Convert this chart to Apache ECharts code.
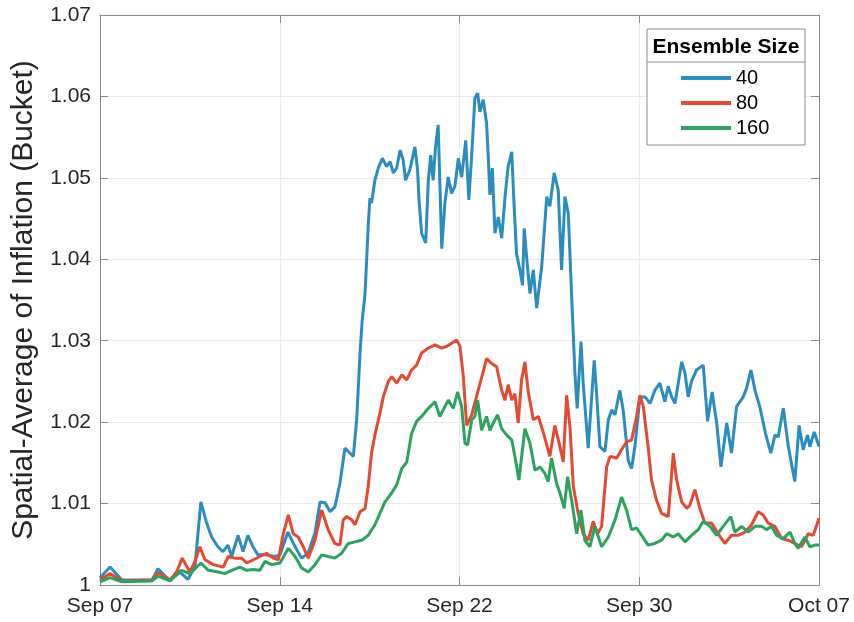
<!DOCTYPE html>
<html>
<head>
<meta charset="utf-8">
<script src="https://cdn.jsdelivr.net/npm/echarts@6/dist/echarts.min.js"></script>
<style>
  html, body { margin: 0; padding: 0; background: #fff; }
  #main { width: 854px; height: 622px; }
</style>
</head>
<body>
<div id="main"></div>
<script>
// x in days since Sep 07, tick every 7.5 days
var xLabels = ['Sep 07', 'Sep 14', 'Sep 22', 'Sep 30', 'Oct 07'];
var legendNames = ['40', '80', '160'];

var days40 = [0,0.42,0.91,2.17,2.42,2.92,3.25,3.67,3.96,4.21,4.45,4.66,4.92,5.13,5.34,5.49,5.76,5.97,6.17,6.38,6.59,6.88,7.30,7.51,7.84,8.14,8.41,8.68,8.97,9.18,9.39,9.60,9.80,10.01,10.22,10.36,10.57,10.71,10.85,10.94,11.06,11.19,11.26,11.33,11.47,11.61,11.78,11.96,12.10,12.24,12.38,12.52,12.65,12.75,12.93,13.14,13.25,13.31,13.42,13.59,13.70,13.80,13.90,14.00,14.11,14.26,14.39,14.53,14.67,14.81,14.95,15.09,15.26,15.39,15.53,15.64,15.76,15.85,15.99,16.13,16.20,16.27,16.37,16.48,16.62,16.76,16.90,17.03,17.18,17.28,17.38,17.52,17.63,17.70,17.80,17.94,18.08,18.22,18.43,18.64,18.77,18.95,19.12,19.26,19.40,19.54,19.68,19.82,19.91,20.07,20.16,20.37,20.62,20.72,20.86,21.07,21.21,21.35,21.49,21.69,21.83,22.04,22.18,22.32,22.53,22.74,22.95,23.15,23.36,23.57,23.71,23.85,23.99,24.27,24.41,24.54,24.68,24.89,25.17,25.35,25.54,25.73,25.91,26.15,26.35,26.56,26.84,26.98,27.16,27.33,27.53,27.77,27.99,28.16,28.30,28.51,28.72,28.99,29.17,29.34,29.52,29.62,29.80,30];
var vals40 = [1.0009,1.0022,1.0006,1.0006,1.0020,1.0005,1.0018,1.0007,1.0022,1.0102,1.0076,1.0059,1.0047,1.0041,1.0049,1.0035,1.0061,1.0041,1.0061,1.0047,1.0037,1.0037,1.0035,1.0037,1.0065,1.0047,1.0033,1.0039,1.0064,1.0102,1.0101,1.0090,1.0096,1.0125,1.0168,1.0164,1.0158,1.0203,1.0285,1.0325,1.0358,1.0440,1.0475,1.0469,1.0497,1.0512,1.0524,1.0514,1.0520,1.0506,1.0512,1.0534,1.0522,1.0497,1.0510,1.0538,1.0510,1.0473,1.0432,1.0420,1.0497,1.0528,1.0497,1.0538,1.0565,1.0413,1.0469,1.0501,1.0481,1.0490,1.0524,1.0501,1.0546,1.0473,1.0538,1.0598,1.0604,1.0581,1.0596,1.0567,1.0526,1.0479,1.0512,1.0432,1.0452,1.0426,1.0477,1.0514,1.0532,1.0465,1.0407,1.0387,1.0368,1.0438,1.0403,1.0358,1.0387,1.0340,1.0391,1.0477,1.0465,1.0506,1.0485,1.0387,1.0477,1.0456,1.0354,1.0258,1.0217,1.0299,1.0248,1.0168,1.0276,1.0235,1.0170,1.0164,1.0203,1.0215,1.0209,1.0239,1.0215,1.0153,1.0143,1.0170,1.0231,1.0231,1.0223,1.0239,1.0248,1.0225,1.0244,1.0231,1.0223,1.0274,1.0260,1.0231,1.0250,1.0264,1.0270,1.0201,1.0237,1.0199,1.0145,1.0199,1.0162,1.0219,1.0231,1.0242,1.0264,1.0239,1.0219,1.0186,1.0162,1.0184,1.0182,1.0217,1.0170,1.0127,1.0196,1.0166,1.0184,1.0170,1.0188,1.0170];

var days80 = [0,0.42,0.91,2.16,2.43,2.92,3.20,3.43,3.75,3.96,4.17,4.38,4.73,5.14,5.35,5.63,5.91,6.12,6.40,6.67,6.95,7.23,7.44,7.65,7.86,8.06,8.27,8.48,8.69,8.97,9.25,9.52,9.80,10.01,10.15,10.29,10.50,10.64,10.85,11.06,11.19,11.33,11.47,11.68,11.82,12.03,12.17,12.38,12.59,12.80,13.00,13.21,13.42,13.70,13.98,14.26,14.46,14.67,14.88,15.02,15.16,15.30,15.51,15.78,15.99,16.13,16.34,16.55,16.76,16.90,17.03,17.18,17.31,17.45,17.59,17.73,17.87,18.08,18.29,18.49,18.77,18.98,19.19,19.33,19.47,19.61,19.75,19.95,20.16,20.37,20.58,20.76,20.93,21.14,21.28,21.56,21.76,21.97,22.18,22.39,22.53,22.67,22.87,23.01,23.22,23.43,23.71,23.92,24.06,24.27,24.48,24.61,24.82,25.03,25.24,25.52,25.79,26.07,26.35,26.63,26.91,27.19,27.46,27.67,27.88,28.16,28.44,28.72,28.99,29.27,29.55,29.76,30];
var vals80 = [1.0006,1.0014,1.0005,1.0006,1.0015,1.0006,1.0016,1.0033,1.0016,1.0029,1.0047,1.0031,1.0025,1.0022,1.0035,1.0033,1.0033,1.0027,1.0031,1.0035,1.0039,1.0033,1.0031,1.0063,1.0086,1.0063,1.0059,1.0047,1.0033,1.0055,1.0092,1.0068,1.0051,1.0049,1.0080,1.0084,1.0080,1.0074,1.0090,1.0094,1.0121,1.0162,1.0184,1.0211,1.0231,1.0250,1.0256,1.0248,1.0258,1.0252,1.0264,1.0270,1.0285,1.0291,1.0295,1.0291,1.0293,1.0297,1.0301,1.0293,1.0256,1.0196,1.0209,1.0239,1.0262,1.0278,1.0272,1.0268,1.0239,1.0227,1.0246,1.0227,1.0235,1.0199,1.0252,1.0274,1.0237,1.0203,1.0207,1.0188,1.0158,1.0196,1.0170,1.0151,1.0233,1.0194,1.0121,1.0088,1.0063,1.0055,1.0078,1.0063,1.0072,1.0145,1.0158,1.0156,1.0166,1.0176,1.0178,1.0207,1.0233,1.0219,1.0170,1.0129,1.0104,1.0088,1.0084,1.0162,1.0129,1.0102,1.0094,1.0098,1.0117,1.0094,1.0076,1.0076,1.0063,1.0051,1.0061,1.0061,1.0065,1.0074,1.0090,1.0086,1.0076,1.0072,1.0057,1.0055,1.0051,1.0047,1.0063,1.0061,1.0082];

var days160 = [0,0.42,0.91,2.16,2.43,2.92,3.41,3.75,4.21,4.52,4.94,5.21,5.49,5.84,6.12,6.40,6.67,6.88,7.16,7.51,7.86,8.14,8.41,8.69,8.97,9.25,9.52,9.80,10.08,10.36,10.64,10.92,11.19,11.47,11.68,11.89,12.17,12.38,12.59,12.80,13.00,13.21,13.42,13.70,13.98,14.18,14.39,14.53,14.74,14.92,15.09,15.23,15.34,15.51,15.64,15.76,15.92,16.13,16.27,16.41,16.59,16.76,16.97,17.18,17.31,17.48,17.73,17.94,18.15,18.36,18.56,18.70,18.84,19.05,19.19,19.37,19.51,19.68,19.89,20.07,20.23,20.44,20.65,20.93,21.21,21.49,21.76,21.97,22.18,22.39,22.60,22.87,23.15,23.43,23.64,23.92,24.13,24.41,24.68,24.96,25.17,25.45,25.73,26.00,26.32,26.49,26.77,27.05,27.33,27.61,27.81,28.02,28.23,28.51,28.79,28.99,29.13,29.41,29.62,29.83,30];
var vals160 = [1.0004,1.0009,1.0004,1.0005,1.0011,1.0005,1.0018,1.0014,1.0027,1.0018,1.0016,1.0014,1.0018,1.0022,1.0018,1.0019,1.0018,1.0029,1.0025,1.0027,1.0045,1.0035,1.0021,1.0016,1.0025,1.0037,1.0035,1.0033,1.0039,1.0051,1.0053,1.0055,1.0061,1.0074,1.0088,1.0102,1.0113,1.0123,1.0143,1.0151,1.0186,1.0201,1.0207,1.0217,1.0225,1.0207,1.0219,1.0227,1.0217,1.0237,1.0219,1.0174,1.0172,1.0203,1.0207,1.0227,1.0190,1.0207,1.0190,1.0199,1.0209,1.0192,1.0184,1.0178,1.0158,1.0129,1.0192,1.0174,1.0141,1.0145,1.0137,1.0127,1.0156,1.0125,1.0113,1.0094,1.0133,1.0104,1.0063,1.0092,1.0055,1.0047,1.0072,1.0047,1.0059,1.0080,1.0108,1.0092,1.0068,1.0070,1.0061,1.0049,1.0051,1.0055,1.0063,1.0059,1.0063,1.0053,1.0061,1.0068,1.0078,1.0072,1.0061,1.0072,1.0084,1.0065,1.0072,1.0065,1.0072,1.0072,1.0068,1.0072,1.0061,1.0057,1.0065,1.0051,1.0045,1.0059,1.0047,1.0049,1.0049];

function pairs(xs, ys) {
    var out = [];
    for (var i = 0; i < xs.length; i++) {
        out.push([xs[i], ys[i]]);
    }
    return out;
}

var colors = ['#2b8cbe', '#e34a33', '#2ca25f'];
var axisGray = '#8a8a8a';
var font = '"Liberation Sans", Arial, sans-serif';

var chart = echarts.init(document.getElementById('main'));

function xAxisCfg(pos, showLabel) {
    return {
        type: 'value',
        position: pos,
        min: 0,
        max: 30,
        interval: 7.5,
        axisLine: { show: true, onZero: false, lineStyle: { color: axisGray, width: 1 } },
        axisTick: { show: true, inside: true, length: 8, lineStyle: { color: axisGray } },
        axisLabel: {
            show: showLabel,
            margin: 11,
            fontSize: 21,
            fontFamily: font,
            color: '#262626',
            formatter: function (v) { return xLabels[Math.round(v / 7.5)]; }
        },
        splitLine: { show: showLabel, lineStyle: { color: '#ebebeb', width: 1 } }
    };
}

function yAxisCfg(pos, showLabel) {
    var cfg = {
        type: 'value',
        position: pos,
        min: 1,
        max: 1.07,
        interval: 0.01,
        axisLine: { show: true, onZero: false, lineStyle: { color: axisGray, width: 1 } },
        axisTick: { show: true, inside: true, length: 8, lineStyle: { color: axisGray } },
        axisLabel: {
            show: showLabel,
            margin: 9,
            fontSize: 21,
            fontFamily: font,
            color: '#262626',
            formatter: function (v) { return Math.abs(v - 1) < 1e-9 ? '1' : v.toFixed(2); }
        },
        splitLine: { show: showLabel, lineStyle: { color: '#ebebeb', width: 1 } }
    };
    if (showLabel) {
        cfg.name = 'Spatial-Average of Inflation (Bucket)';
        cfg.nameLocation = 'middle';
        cfg.nameGap = 60;
        cfg.nameTextStyle = { fontSize: 30, fontFamily: font, color: '#262626' };
    }
    return cfg;
}

var series = [];
var allDays = [days40, days80, days160];
var allVals = [vals40, vals80, vals160];
for (var s = 0; s < 3; s++) {
    series.push({
        name: legendNames[s],
        type: 'line',
        xAxisIndex: 0,
        yAxisIndex: 0,
        showSymbol: false,
        symbol: 'none',
        lineStyle: { width: 3, color: colors[s] },
        itemStyle: { color: colors[s] },
        data: pairs(allDays[s], allVals[s]),
        z: 2 + s
    });
}

option = {
    backgroundColor: '#fff',
    animation: false,
    color: colors,
    grid: { left: 100, right: 35, top: 15, bottom: 37 },
    xAxis: [xAxisCfg('bottom', true), xAxisCfg('top', false)],
    yAxis: [yAxisCfg('left', true), yAxisCfg('right', false)],
    graphic: [
        {
            type: 'rect',
            z: 5,
            shape: { x: 647, y: 29, width: 158, height: 116 },
            style: { fill: '#fff', stroke: '#8c8c8c', lineWidth: 1 }
        },
        {
            type: 'line',
            z: 6,
            shape: { x1: 647, y1: 62, x2: 805, y2: 62 },
            style: { stroke: '#8c8c8c', lineWidth: 1 }
        },
        {
            type: 'text',
            z: 6,
            x: 726,
            y: 47,
            style: {
                text: 'Ensemble Size',
                fontSize: 21,
                fontWeight: 'bold',
                fontFamily: font,
                fill: '#000',
                align: 'center',
                verticalAlign: 'middle'
            }
        }
    ],
    legend: {
        z: 10,
        orient: 'vertical',
        left: 681,
        top: 68,
        padding: 0,
        itemWidth: 50,
        itemHeight: 4,
        itemGap: 5,
        icon: 'rect',
        data: legendNames,
        textStyle: { fontSize: 20, fontFamily: font, color: '#000', lineHeight: 20 }
    },
    series: series
};

chart.setOption(option);
</script>
</body>
</html>
